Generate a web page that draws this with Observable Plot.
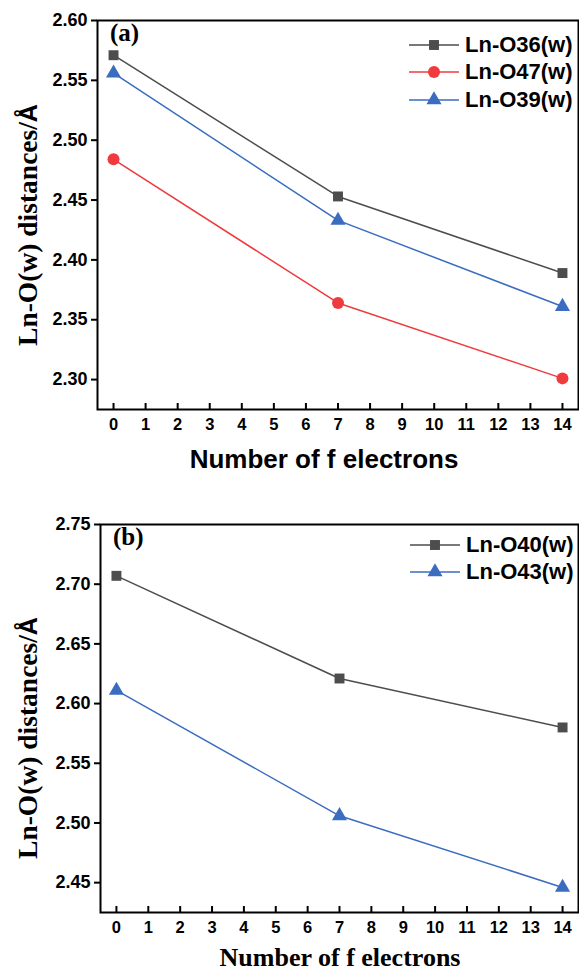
<!DOCTYPE html>
<html>
<head>
<meta charset="utf-8">
<script src="https://cdn.jsdelivr.net/npm/d3@7"></script>
<script src="https://cdn.jsdelivr.net/npm/@observablehq/plot@0.6"></script>
<style>
  html, body { margin: 0; padding: 0; background: #fff; }
  #wrap { position: relative; width: 579px; height: 973px; overflow: hidden; }
  .panel { position: absolute; left: 0; }
  .legend { position: absolute; font-family: "Liberation Sans", Arial, sans-serif; font-weight: bold; font-size: 22px; color: #000; }
  .legend .row { display: flex; align-items: center; height: 27.5px; }
  .legend svg { display: block; margin-right: 6px; }
</style>
</head>
<body>
<div id="wrap"></div>
<script>
// ---------- data ----------
const electrons = [0, 7, 14];
const xTickLabels = [0, 1, 2, 3, 4, 5, 6, 7, 8, 9, 10, 11, 12, 13, 14];

const namesA = ["Ln-O36(w)", "Ln-O47(w)", "Ln-O39(w)"];
const lnO36 = [2.571, 2.453, 2.389];
const lnO47 = [2.484, 2.364, 2.301];
const lnO39 = [2.556, 2.433, 2.361];
const yTicksA = [2.30, 2.35, 2.40, 2.45, 2.50, 2.55, 2.60];

const namesB = ["Ln-O40(w)", "Ln-O43(w)"];
const lnO40 = [2.707, 2.621, 2.580];
const lnO43 = [2.611, 2.506, 2.446];
const yTicksB = [2.45, 2.50, 2.55, 2.60, 2.65, 2.70, 2.75];

const colors = {"Ln-O36(w)": "#4d4d4d", "Ln-O47(w)": "#ef3a3e", "Ln-O39(w)": "#3a6cc0",
                "Ln-O40(w)": "#4d4d4d", "Ln-O43(w)": "#3a6cc0"};
const symbols = {"Ln-O36(w)": "square", "Ln-O47(w)": "circle", "Ln-O39(w)": "triangle",
                 "Ln-O40(w)": "square", "Ln-O43(w)": "triangle"};

function toRows(names, arrays) {
  const rows = [];
  names.forEach((n, i) => arrays[i].forEach((v, j) => rows.push({series: n, x: electrons[j], y: v})));
  return rows;
}
const rowsA = toRows(namesA, [lnO36, lnO47, lnO39]);
const rowsB = toRows(namesB, [lnO40, lnO43]);

const tickFont = "Liberation Sans, Arial, sans-serif";
const serif = "Liberation Serif, Times New Roman, serif";

function panel(opts) {
  const {rows, names, yTicks, yDomain, height, mt, mb, ml, letter, xLabelFont, xLabelY, xLabelX, yLabelX, yLabelY} = opts;
  const marks = [
    Plot.axisY({ticks: yTicks, tickSize: 6, tickPadding: 4, tickFormat: d3.format(".2f"), label: null,
      fontSize: 18, fontWeight: "bold", fontFamily: tickFont, strokeWidth: 2}),
    Plot.axisX({ticks: xTickLabels, tickSize: -6, tickPadding: 15, tickFormat: d => String(d), label: null,
      fontSize: 16.5, fontWeight: "bold", fontFamily: tickFont, strokeWidth: 2}),
    Plot.frame({stroke: "#000", strokeWidth: 2})
  ];
  names.forEach(n => {
    const d = rows.filter(r => r.series === n);
    marks.push(Plot.line(d, {x: "x", y: "y", stroke: colors[n], strokeWidth: 1.5}));
    marks.push(Plot.dot(d, {x: "x", y: "y", fill: colors[n], stroke: "none", symbol: () => symbols[n], r: symbols[n] === "circle" ? 6 : 5.6}));
  });
  const svg = Plot.plot({
    width: 579, height,
    marginLeft: ml, marginRight: 1, marginTop: mt, marginBottom: mb,
    x: {domain: [-0.5, 14.5]},
    y: {domain: yDomain},
    style: {background: "#fff", overflow: "visible"},
    marks
  });
  const s = d3.select(svg);
  // panel letter
  s.append("text").attr("x", ml + 13).attr("y", mt + 21).attr("text-anchor", "start")
    .attr("font-family", serif).attr("font-weight", "bold")
    .attr("font-size", 25).text(letter);
  // x label
  s.append("text").attr("x", xLabelX).attr("y", xLabelY).attr("text-anchor", "middle")
    .attr("font-family", xLabelFont).attr("font-weight", "bold").attr("font-size", 26)
    .text("Number of f electrons");
  // y label
  const yl = s.append("text").attr("transform", `translate(${yLabelX},${yLabelY}) rotate(-90)`)
    .attr("text-anchor", "middle").attr("font-family", serif)
    .attr("font-weight", "bold").attr("font-size", 27.5);
  yl.append("tspan").text("Ln-O(w) distances/");
  yl.append("tspan").attr("font-family", tickFont).attr("font-size", 25).text("Å");
  return svg;
}

const wrap = document.getElementById("wrap");

const divA = document.createElement("div");
divA.className = "panel"; divA.style.top = "0px";
divA.appendChild(panel({rows: rowsA, names: namesA, yTicks: yTicksA, yDomain: [2.275, 2.60],
  height: 480, mt: 20, mb: 71, ml: 97, letter: "(a)",
  xLabelFont: tickFont, xLabelY: 468, xLabelX: 324, yLabelX: 37, yLabelY: 225}));
wrap.appendChild(divA);

const divB = document.createElement("div");
divB.className = "panel"; divB.style.top = "480px";
divB.appendChild(panel({rows: rowsB, names: namesB, yTicks: yTicksB, yDomain: [2.425, 2.75],
  height: 493, mt: 44, mb: 61, ml: 100, letter: "(b)",
  xLabelFont: serif, xLabelY: 486, xLabelX: 340, yLabelX: 37, yLabelY: 258}));
wrap.appendChild(divB);

// ---------- legends ----------
function legend(names, left, top) {
  const div = document.createElement("div");
  div.className = "legend";
  div.style.left = left + "px"; div.style.top = top + "px";
  names.forEach(n => {
    const row = document.createElement("div");
    row.className = "row";
    const sv = d3.create("svg").attr("width", 50).attr("height", 20);
    sv.append("line").attr("x1", 0).attr("x2", 50).attr("y1", 10).attr("y2", 10)
      .attr("stroke", colors[n]).attr("stroke-width", 1.5);
    const sym = {square: d3.symbolSquare, circle: d3.symbolCircle, triangle: d3.symbolTriangle}[symbols[n]];
    const r = symbols[n] === "circle" ? 6 : 5.6;
    sv.append("path").attr("transform", "translate(25,10)")
      .attr("d", d3.symbol(sym, Math.PI * r * r)()).attr("fill", colors[n]);
    row.appendChild(sv.node());
    const t = document.createElement("span");
    t.textContent = n;
    row.appendChild(t);
    div.appendChild(row);
  });
  wrap.appendChild(div);
}
legend(namesA, 409, 31);
legend(namesB, 410, 531);
</script>
</body>
</html>
